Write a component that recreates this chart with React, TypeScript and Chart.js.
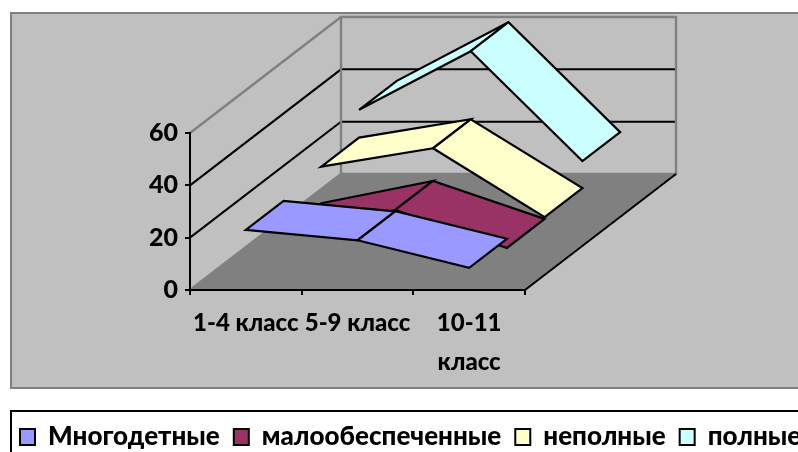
import React, { useEffect, useRef } from "react";
import { Chart, registerables } from "chart.js";

Chart.register(...registerables);

const categories: (string | string[])[] = ["1-4 класс", "5-9 класс", ["10-11", "класс"]];
const mnogodetnye = [23, 19, 8.5];
const maloobespechennye = [11, 19.5, 5];
const nepolnye = [25, 32, 5.7];
const polnye = [35.6, 58, 16];

const FONT = "Lato, 'Open Sans', sans-serif";
const DX = 37.75;
const DY = -29;
const LAYERS = 4;

const ribbon3d = {
  id: "ribbon3d",
  beforeDraw(chart: any) {
    const { ctx, chartArea: a, scales } = chart;
    const y = scales.y;
    const wx = DX * LAYERS;
    const wy = DY * LAYERS;
    ctx.save();
    ctx.fillStyle = "#ffffff";
    ctx.fillRect(0, 0, chart.width, chart.height);
    // outer panel
    ctx.fillStyle = "#c0c0c0";
    ctx.strokeStyle = "#808080";
    ctx.lineWidth = 2;
    ctx.fillRect(11, 13, chart.width, 375);
    ctx.strokeRect(11, 13, chart.width, 375);
    // legend box
    ctx.fillStyle = "#ffffff";
    ctx.strokeStyle = "#000000";
    ctx.fillRect(11, 411, chart.width, 60);
    ctx.strokeRect(11, 411, chart.width, 60);
    // floor
    const b = y.getPixelForValue(0);
    const t = y.getPixelForValue(60);
    ctx.fillStyle = "#808080";
    ctx.beginPath();
    ctx.moveTo(a.left, b);
    ctx.lineTo(a.right, b);
    ctx.lineTo(a.right + wx, b + wy);
    ctx.lineTo(a.left + wx, b + wy);
    ctx.closePath();
    ctx.fill();
    // gridlines on the walls
    ctx.strokeStyle = "#000000";
    ctx.lineWidth = 2;
    for (const tick of y.ticks) {
      if (tick.value === 0 || tick.value === 60) continue;
      const py = y.getPixelForValue(tick.value);
      ctx.beginPath();
      ctx.moveTo(a.left, py);
      ctx.lineTo(a.left + wx, py + wy);
      ctx.lineTo(a.right + wx, py + wy);
      ctx.stroke();
    }
    // wall frame
    ctx.strokeStyle = "#808080";
    ctx.lineWidth = 2.4;
    ctx.beginPath();
    ctx.moveTo(a.left, b);
    ctx.lineTo(a.left + wx, b + wy);
    ctx.lineTo(a.right + wx, b + wy);
    ctx.lineTo(a.right + wx, t + wy);
    ctx.lineTo(a.left + wx, t + wy);
    ctx.lineTo(a.left + wx, b + wy);
    ctx.moveTo(a.left + wx, t + wy);
    ctx.lineTo(a.left, t);
    ctx.stroke();
    // floor front-right edge
    ctx.strokeStyle = "#000000";
    ctx.lineWidth = 2;
    ctx.beginPath();
    ctx.moveTo(a.right, b);
    ctx.lineTo(a.right + wx, b + wy);
    ctx.stroke();
    ctx.restore();
  },
  beforeDatasetDraw(chart: any, args: any) {
    const { ctx } = chart;
    const d = args.index;
    const ds = chart.data.datasets[d];
    const pts = args.meta.data;
    ctx.save();
    ctx.fillStyle = ds.backgroundColor;
    ctx.strokeStyle = "#000000";
    ctx.lineWidth = 2.2;
    ctx.lineJoin = "miter";
    for (let i = 0; i < pts.length - 1; i++) {
      const p = pts[i];
      const q = pts[i + 1];
      ctx.beginPath();
      ctx.moveTo(p.x + DX * d, p.y + DY * d);
      ctx.lineTo(q.x + DX * d, q.y + DY * d);
      ctx.lineTo(q.x + DX * (d + 1), q.y + DY * (d + 1));
      ctx.lineTo(p.x + DX * (d + 1), p.y + DY * (d + 1));
      ctx.closePath();
      ctx.fill();
      ctx.stroke();
    }
    ctx.restore();
    return false;
  },
};

export default function App() {
  const ref = useRef<HTMLCanvasElement>(null);
  useEffect(() => {
    document.body.style.margin = "0";
    const mk = (label: string, data: number[], color: string) => ({
      label,
      data,
      backgroundColor: color,
      borderColor: "#000000",
      borderWidth: 2,
      pointRadius: 0,
      clip: false as const,
    });
    const chart = new Chart(ref.current!, {
      type: "line",
      data: {
        labels: categories as any,
        datasets: [
          mk("Многодетные", mnogodetnye, "#9999ff"),
          mk("малообеспеченные", maloobespechennye, "#993366"),
          mk("неполные", nepolnye, "#ffffcc"),
          mk("полные", polnye, "#ccffff"),
        ],
      },
      plugins: [ribbon3d as any],
      options: {
        animation: false,
        responsive: false,
        devicePixelRatio: 1,
        layout: { padding: { top: 133, left: 6, right: -40, bottom: -8 } },
        plugins: {
          tooltip: { enabled: false },
          legend: {
            position: "bottom",
            align: "start",
            labels: {
              color: "#000000",
              boxWidth: 15,
              boxHeight: 16,
              padding: 14,
              font: { family: FONT, size: 26, weight: "900" },
            },
          },
        },
        scales: {
          x: {
            type: "category",
            offset: true,
            border: { color: "#000000", width: 2 },
            grid: { offset: true, drawOnChartArea: false, color: "#000000", lineWidth: 2, tickLength: 5 },
            ticks: {
              color: "#000000",
              autoSkip: false,
              maxRotation: 0,
              minRotation: 0,
              padding: 9,
              font: { family: FONT, size: 24, weight: "900", lineHeight: 1.62 },
            },
            afterFit(s: any) {
              s.height = 460 - 290 - (s.chart.legend?.height ?? 60);
            },
          },
          y: {
            type: "linear",
            min: 0,
            max: 60,
            position: "left",
            border: { color: "#000000", width: 2 },
            grid: { drawOnChartArea: false, color: "#000000", lineWidth: 2, tickLength: 5 },
            ticks: {
              color: "#000000",
              stepSize: 20,
              padding: 7,
              font: { family: FONT, size: 25, weight: "900" },
            },
            afterFit(s: any) {
              s.width = 184;
            },
          },
          yR: {
            type: "linear",
            position: "right",
            display: true,
            border: { display: false },
            grid: { display: false },
            ticks: { display: false },
            afterFit(s: any) {
              s.width = 313;
            },
          },
        },
      },
    } as any);
    return () => chart.destroy();
  }, []);
  return <canvas ref={ref} width={798} height={452} style={{ display: "block" }} />;
}
